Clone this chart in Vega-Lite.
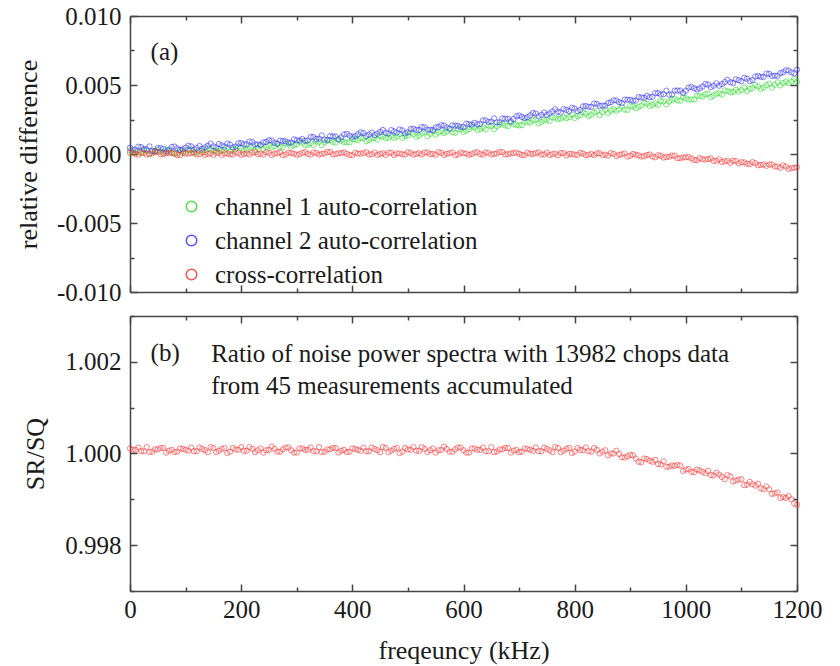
{
"$schema": "https://vega.github.io/schema/vega-lite/v6.json",
"background": "white",
"padding": {"left": 15, "top": 4, "right": 10, "bottom": 10},
"spacing": 24,
"bounds": "flush",
"config": {
  "font": "Liberation Serif",
  "view": {"stroke": null},
  "axis": {"grid": false, "domainColor": "#444", "domainWidth": 1.5, "tickColor": "#444", "tickWidth": 1.5,
    "labelFont": "Liberation Serif", "labelFontSize": 25, "labelColor": "#1a1a1a",
    "titleFont": "Liberation Serif", "titleFontSize": 26, "titleFontWeight": "normal", "titleColor": "#1a1a1a",
    "labelFlush": false, "labelOverlap": false, "labelBound": false}
},
"datasets": {"d": [
{"f":0,"ch1":0.00025,"ch2":0.00045,"cross":0.00009,"ratio":1.00011},
{"f":10,"ch1":0.0001,"ch2":0.0003,"cross":0,"ratio":1.00008},
{"f":20,"ch1":0.00004,"ch2":0.0005,"cross":0.00011,"ratio":1.00005},
{"f":30,"ch1":0.00023,"ch2":0.00035,"cross":-0.00004,"ratio":1.00014},
{"f":40,"ch1":0.00015,"ch2":0.00023,"cross":0.00004,"ratio":1.00004},
{"f":50,"ch1":0.0003,"ch2":0.00044,"cross":0.00014,"ratio":1.00009},
{"f":60,"ch1":0.00009,"ch2":0.00038,"cross":-0.00001,"ratio":1.00012},
{"f":70,"ch1":0.00021,"ch2":0.00031,"cross":0.00007,"ratio":1.00006},
{"f":80,"ch1":0.00004,"ch2":0.00054,"cross":0.00002,"ratio":1.00003},
{"f":90,"ch1":0.00027,"ch2":0.0003,"cross":-0.00008,"ratio":1.00011},
{"f":100,"ch1":0.00014,"ch2":0.00045,"cross":0.00003,"ratio":1.00008},
{"f":110,"ch1":0.00031,"ch2":0.00055,"cross":0.00007,"ratio":1.00013},
{"f":120,"ch1":0.00012,"ch2":0.00043,"cross":-0.00003,"ratio":1.00005},
{"f":130,"ch1":0.00026,"ch2":0.00038,"cross":0.00011,"ratio":1.0001},
{"f":140,"ch1":0.00041,"ch2":0.0006,"cross":0.00001,"ratio":1.00003},
{"f":150,"ch1":0.00022,"ch2":0.00055,"cross":-0.00007,"ratio":1.00012},
{"f":160,"ch1":0.00036,"ch2":0.00072,"cross":0.00009,"ratio":1.00006},
{"f":170,"ch1":0.0003,"ch2":0.00054,"cross":0.00004,"ratio":1.00012},
{"f":180,"ch1":0.00019,"ch2":0.00068,"cross":-0.00002,"ratio":1.00004},
{"f":190,"ch1":0.00036,"ch2":0.00054,"cross":0.00013,"ratio":1.00009},
{"f":200,"ch1":0.00043,"ch2":0.00079,"cross":-0.00005,"ratio":1.00014},
{"f":210,"ch1":0.00032,"ch2":0.00069,"cross":0.00005,"ratio":1.00006},
{"f":220,"ch1":0.00056,"ch2":0.00087,"cross":0.0001,"ratio":1.0001},
{"f":230,"ch1":0.00044,"ch2":0.00069,"cross":-0.00001,"ratio":1.00007},
{"f":240,"ch1":0.00036,"ch2":0.00084,"cross":-0.00005,"ratio":1.00002},
{"f":250,"ch1":0.00061,"ch2":0.001,"cross":0.00008,"ratio":1.00008},
{"f":260,"ch1":0.00057,"ch2":0.00082,"cross":0.00002,"ratio":1.0001},
{"f":270,"ch1":0.00052,"ch2":0.00097,"cross":0.00012,"ratio":1.00004},
{"f":280,"ch1":0.00076,"ch2":0.00092,"cross":-0.00003,"ratio":1.00013},
{"f":290,"ch1":0.00054,"ch2":0.00082,"cross":0.00006,"ratio":1.00007},
{"f":300,"ch1":0.00071,"ch2":0.001,"cross":-0.00006,"ratio":1.00002},
{"f":310,"ch1":0.00081,"ch2":0.00109,"cross":0.00009,"ratio":1.00011},
{"f":320,"ch1":0.00069,"ch2":0.00098,"cross":0,"ratio":1.00008},
{"f":330,"ch1":0.00066,"ch2":0.00123,"cross":0.00011,"ratio":1.00005},
{"f":340,"ch1":0.00088,"ch2":0.00111,"cross":-0.00004,"ratio":1.00014},
{"f":350,"ch1":0.00083,"ch2":0.00104,"cross":0.00004,"ratio":1.00004},
{"f":360,"ch1":0.001,"ch2":0.00129,"cross":0.00014,"ratio":1.00009},
{"f":370,"ch1":0.00082,"ch2":0.00126,"cross":-0.00001,"ratio":1.00012},
{"f":380,"ch1":0.00098,"ch2":0.00121,"cross":0.00007,"ratio":1.00006},
{"f":390,"ch1":0.00084,"ch2":0.00146,"cross":0.00002,"ratio":1.00003},
{"f":400,"ch1":0.00109,"ch2":0.00124,"cross":-0.00008,"ratio":1.00011},
{"f":410,"ch1":0.001,"ch2":0.00142,"cross":0.00003,"ratio":1.00008},
{"f":420,"ch1":0.00118,"ch2":0.00152,"cross":0.00007,"ratio":1.00013},
{"f":430,"ch1":0.00101,"ch2":0.00141,"cross":-0.00003,"ratio":1.00005},
{"f":440,"ch1":0.00116,"ch2":0.00137,"cross":0.00011,"ratio":1.0001},
{"f":450,"ch1":0.00133,"ch2":0.0016,"cross":0.00001,"ratio":1.00003},
{"f":460,"ch1":0.00115,"ch2":0.00155,"cross":-0.00007,"ratio":1.00012},
{"f":470,"ch1":0.00131,"ch2":0.00173,"cross":0.00009,"ratio":1.00006},
{"f":480,"ch1":0.00126,"ch2":0.00155,"cross":0.00004,"ratio":1.00012},
{"f":490,"ch1":0.00117,"ch2":0.00171,"cross":-0.00002,"ratio":1.00004},
{"f":500,"ch1":0.00135,"ch2":0.00157,"cross":0.00013,"ratio":1.00009},
{"f":510,"ch1":0.00144,"ch2":0.00183,"cross":-0.00005,"ratio":1.00014},
{"f":520,"ch1":0.00133,"ch2":0.00174,"cross":0.00005,"ratio":1.00006},
{"f":530,"ch1":0.00158,"ch2":0.00193,"cross":0.0001,"ratio":1.0001},
{"f":540,"ch1":0.00147,"ch2":0.00176,"cross":-0.00001,"ratio":1.00007},
{"f":550,"ch1":0.0014,"ch2":0.00192,"cross":-0.00005,"ratio":1.00002},
{"f":560,"ch1":0.00165,"ch2":0.00209,"cross":0.00008,"ratio":1.00008},
{"f":570,"ch1":0.00162,"ch2":0.00192,"cross":0.00002,"ratio":1.0001},
{"f":580,"ch1":0.00158,"ch2":0.00208,"cross":0.00012,"ratio":1.00004},
{"f":590,"ch1":0.00182,"ch2":0.00204,"cross":-0.00003,"ratio":1.00013},
{"f":600,"ch1":0.00161,"ch2":0.00195,"cross":0.00006,"ratio":1.00007},
{"f":610,"ch1":0.0018,"ch2":0.00216,"cross":-0.00006,"ratio":1.00002},
{"f":620,"ch1":0.00192,"ch2":0.00226,"cross":0.00009,"ratio":1.00011},
{"f":630,"ch1":0.00181,"ch2":0.00218,"cross":0,"ratio":1.00008},
{"f":640,"ch1":0.00179,"ch2":0.00244,"cross":0.00011,"ratio":1.00005},
{"f":650,"ch1":0.00203,"ch2":0.00235,"cross":-0.00004,"ratio":1.00014},
{"f":660,"ch1":0.002,"ch2":0.00229,"cross":0.00004,"ratio":1.00004},
{"f":670,"ch1":0.00219,"ch2":0.00257,"cross":0.00014,"ratio":1.00009},
{"f":680,"ch1":0.00202,"ch2":0.00255,"cross":-0.00001,"ratio":1.00012},
{"f":690,"ch1":0.00219,"ch2":0.00253,"cross":0.00007,"ratio":1.00006},
{"f":700,"ch1":0.00207,"ch2":0.00279,"cross":0.00002,"ratio":1.00003},
{"f":710,"ch1":0.00235,"ch2":0.0026,"cross":-0.00008,"ratio":1.00011},
{"f":720,"ch1":0.00227,"ch2":0.0028,"cross":0.00002,"ratio":1.00008},
{"f":730,"ch1":0.00248,"ch2":0.00293,"cross":0.00006,"ratio":1.00013},
{"f":740,"ch1":0.00232,"ch2":0.00284,"cross":-0.00004,"ratio":1.00005},
{"f":750,"ch1":0.0025,"ch2":0.00283,"cross":0.0001,"ratio":1.0001},
{"f":760,"ch1":0.00268,"ch2":0.00308,"cross":-0.00001,"ratio":1.00003},
{"f":770,"ch1":0.00253,"ch2":0.00306,"cross":-0.00009,"ratio":1.00012},
{"f":780,"ch1":0.0027,"ch2":0.00326,"cross":0.00007,"ratio":1.00006},
{"f":790,"ch1":0.00268,"ch2":0.00311,"cross":0.00001,"ratio":1.00012},
{"f":800,"ch1":0.0026,"ch2":0.00329,"cross":-0.00005,"ratio":1.00004},
{"f":810,"ch1":0.00281,"ch2":0.00319,"cross":0.00009,"ratio":1.00008},
{"f":820,"ch1":0.00292,"ch2":0.00348,"cross":-0.00009,"ratio":1.00013},
{"f":830,"ch1":0.00284,"ch2":0.00342,"cross":0,"ratio":1.00004},
{"f":840,"ch1":0.00311,"ch2":0.00364,"cross":0.00005,"ratio":1.00008},
{"f":850,"ch1":0.00302,"ch2":0.0035,"cross":-0.00007,"ratio":1.00004},
{"f":860,"ch1":0.00297,"ch2":0.00369,"cross":-0.00012,"ratio":0.99996},
{"f":870,"ch1":0.00325,"ch2":0.00389,"cross":0.00001,"ratio":1},
{"f":880,"ch1":0.00324,"ch2":0.00375,"cross":-0.00006,"ratio":0.99999},
{"f":890,"ch1":0.00322,"ch2":0.00394,"cross":0.00004,"ratio":0.99991},
{"f":900,"ch1":0.00349,"ch2":0.00393,"cross":-0.00012,"ratio":0.99997},
{"f":910,"ch1":0.00331,"ch2":0.00387,"cross":-0.00005,"ratio":0.99989},
{"f":920,"ch1":0.00351,"ch2":0.00409,"cross":-0.00019,"ratio":0.99981},
{"f":930,"ch1":0.00365,"ch2":0.00421,"cross":-0.00007,"ratio":0.99988},
{"f":940,"ch1":0.00356,"ch2":0.00414,"cross":-0.00018,"ratio":0.99982},
{"f":950,"ch1":0.00356,"ch2":0.00442,"cross":-0.00009,"ratio":0.99977},
{"f":960,"ch1":0.00381,"ch2":0.00434,"cross":-0.00026,"ratio":0.99983},
{"f":970,"ch1":0.0038,"ch2":0.0043,"cross":-0.0002,"ratio":0.99971},
{"f":980,"ch1":0.004,"ch2":0.00459,"cross":-0.00013,"ratio":0.99973},
{"f":990,"ch1":0.00386,"ch2":0.00459,"cross":-0.0003,"ratio":0.99974},
{"f":1000,"ch1":0.00404,"ch2":0.00458,"cross":-0.00024,"ratio":0.99965},
{"f":1010,"ch1":0.00394,"ch2":0.00486,"cross":-0.00032,"ratio":0.9996},
{"f":1020,"ch1":0.00422,"ch2":0.00468,"cross":-0.00045,"ratio":0.99965},
{"f":1030,"ch1":0.00416,"ch2":0.00489,"cross":-0.00038,"ratio":0.9996},
{"f":1040,"ch1":0.00437,"ch2":0.00503,"cross":-0.00037,"ratio":0.99962},
{"f":1050,"ch1":0.00423,"ch2":0.00495,"cross":-0.0005,"ratio":0.99952},
{"f":1060,"ch1":0.00441,"ch2":0.00495,"cross":-0.00039,"ratio":0.99954},
{"f":1070,"ch1":0.00461,"ch2":0.00521,"cross":-0.00052,"ratio":0.99944},
{"f":1080,"ch1":0.00446,"ch2":0.0052,"cross":-0.00064,"ratio":0.9995},
{"f":1090,"ch1":0.00465,"ch2":0.00541,"cross":-0.00051,"ratio":0.99941},
{"f":1100,"ch1":0.00463,"ch2":0.00527,"cross":-0.00059,"ratio":0.99944},
{"f":1110,"ch1":0.00457,"ch2":0.00546,"cross":-0.0007,"ratio":0.99932},
{"f":1120,"ch1":0.00478,"ch2":0.00536,"cross":-0.00059,"ratio":0.99933},
{"f":1130,"ch1":0.0049,"ch2":0.00565,"cross":-0.00082,"ratio":0.99934},
{"f":1140,"ch1":0.00482,"ch2":0.00559,"cross":-0.00076,"ratio":0.99922},
{"f":1150,"ch1":0.0051,"ch2":0.00581,"cross":-0.00076,"ratio":0.99922},
{"f":1160,"ch1":0.00501,"ch2":0.00567,"cross":-0.00091,"ratio":0.99913},
{"f":1170,"ch1":0.00497,"ch2":0.00586,"cross":-0.001,"ratio":0.99903},
{"f":1180,"ch1":0.00525,"ch2":0.00606,"cross":-0.00091,"ratio":0.99903},
{"f":1190,"ch1":0.00525,"ch2":0.00592,"cross":-0.00102,"ratio":0.999},
{"f":1200,"ch1":0.00523,"ch2":0.00611,"cross":-0.00096,"ratio":0.99888},
{"f":5,"ch1":0.00005,"ch2":0.00031,"cross":0.00013,"ratio":1.00008},
{"f":15,"ch1":0.00019,"ch2":0.00053,"cross":-0.00005,"ratio":1.00013},
{"f":25,"ch1":0.00029,"ch2":0.00035,"cross":0.00008,"ratio":1.00005},
{"f":35,"ch1":-0.00002,"ch2":0.00055,"cross":0.00001,"ratio":1.00003},
{"f":45,"ch1":0.00025,"ch2":0.0002,"cross":0.00015,"ratio":1.00009},
{"f":55,"ch1":0.00016,"ch2":0.00042,"cross":-0.00003,"ratio":1.00012},
{"f":65,"ch1":0.00033,"ch2":0.00018,"cross":0.00005,"ratio":1.00002},
{"f":75,"ch1":0.00009,"ch2":0.00051,"cross":0.00011,"ratio":1.00008},
{"f":85,"ch1":0.00004,"ch2":0.0004,"cross":-0.00008,"ratio":1.00004},
{"f":95,"ch1":0.00022,"ch2":0.00034,"cross":0.00009,"ratio":1.0001},
{"f":105,"ch1":0.00029,"ch2":0.0006,"cross":0.00002,"ratio":1.00006},
{"f":115,"ch1":0.00004,"ch2":0.00033,"cross":0.00013,"ratio":1.00005},
{"f":125,"ch1":0.00024,"ch2":0.00057,"cross":-0.00002,"ratio":1.00013},
{"f":135,"ch1":0.00013,"ch2":0.00048,"cross":-0.00006,"ratio":1.00007},
{"f":145,"ch1":0.00034,"ch2":0.00075,"cross":0.00005,"ratio":1.00014},
{"f":155,"ch1":0.00024,"ch2":0.00047,"cross":0.00009,"ratio":1.00003},
{"f":165,"ch1":0.00022,"ch2":0.00063,"cross":-0.00007,"ratio":1.0001},
{"f":175,"ch1":0.00047,"ch2":0.00076,"cross":0.00004,"ratio":1.00001},
{"f":185,"ch1":0.00032,"ch2":0.00048,"cross":-0.00004,"ratio":1.00012},
{"f":195,"ch1":0.00055,"ch2":0.00078,"cross":0.00007,"ratio":1.00008},
{"f":205,"ch1":0.00024,"ch2":0.00071,"cross":0,"ratio":1.00006},
{"f":215,"ch1":0.00048,"ch2":0.00091,"cross":-0.00003,"ratio":1.00014},
{"f":225,"ch1":0.00026,"ch2":0.0007,"cross":0.00012,"ratio":1.00003},
{"f":235,"ch1":0.00061,"ch2":0.00067,"cross":0.00001,"ratio":1.00011},
{"f":245,"ch1":0.00052,"ch2":0.00088,"cross":0.00014,"ratio":1.00007},
{"f":255,"ch1":0.00048,"ch2":0.00097,"cross":-0.00007,"ratio":1.00015},
{"f":265,"ch1":0.00075,"ch2":0.00073,"cross":0.00006,"ratio":1.00004},
{"f":275,"ch1":0.00048,"ch2":0.00094,"cross":-0.00009,"ratio":1.00009},
{"f":285,"ch1":0.00072,"ch2":0.00084,"cross":0.0001,"ratio":1.00013},
{"f":295,"ch1":0.00063,"ch2":0.00106,"cross":0.00003,"ratio":1.00002},
{"f":305,"ch1":0.0009,"ch2":0.00097,"cross":-0.00001,"ratio":1.00011},
{"f":315,"ch1":0.00063,"ch2":0.00096,"cross":0.00013,"ratio":1.00008},
{"f":325,"ch1":0.00079,"ch2":0.00123,"cross":-0.00005,"ratio":1.00013},
{"f":335,"ch1":0.00092,"ch2":0.00109,"cross":0.00008,"ratio":1.00005},
{"f":345,"ch1":0.00064,"ch2":0.00134,"cross":0.00001,"ratio":1.00003},
{"f":355,"ch1":0.00095,"ch2":0.00103,"cross":0.00015,"ratio":1.00009},
{"f":365,"ch1":0.00088,"ch2":0.00128,"cross":-0.00003,"ratio":1.00012},
{"f":375,"ch1":0.00108,"ch2":0.00106,"cross":0.00005,"ratio":1.00002},
{"f":385,"ch1":0.00087,"ch2":0.00142,"cross":0.00011,"ratio":1.00008},
{"f":395,"ch1":0.00084,"ch2":0.00133,"cross":-0.00008,"ratio":1.00004},
{"f":405,"ch1":0.00106,"ch2":0.0013,"cross":0.00009,"ratio":1.0001},
{"f":415,"ch1":0.00115,"ch2":0.00157,"cross":0.00002,"ratio":1.00006},
{"f":425,"ch1":0.00092,"ch2":0.00131,"cross":0.00013,"ratio":1.00005},
{"f":435,"ch1":0.00113,"ch2":0.00155,"cross":-0.00002,"ratio":1.00013},
{"f":445,"ch1":0.00104,"ch2":0.00147,"cross":-0.00006,"ratio":1.00007},
{"f":455,"ch1":0.00126,"ch2":0.00174,"cross":0.00005,"ratio":1.00014},
{"f":465,"ch1":0.00118,"ch2":0.00148,"cross":0.00009,"ratio":1.00003},
{"f":475,"ch1":0.00117,"ch2":0.00164,"cross":-0.00007,"ratio":1.0001},
{"f":485,"ch1":0.00144,"ch2":0.00178,"cross":0.00004,"ratio":1.00001},
{"f":495,"ch1":0.0013,"ch2":0.0015,"cross":-0.00004,"ratio":1.00012},
{"f":505,"ch1":0.00155,"ch2":0.00181,"cross":0.00007,"ratio":1.00008},
{"f":515,"ch1":0.00125,"ch2":0.00175,"cross":0,"ratio":1.00006},
{"f":525,"ch1":0.00149,"ch2":0.00196,"cross":-0.00003,"ratio":1.00014},
{"f":535,"ch1":0.00128,"ch2":0.00176,"cross":0.00012,"ratio":1.00003},
{"f":545,"ch1":0.00164,"ch2":0.00174,"cross":0.00001,"ratio":1.00011},
{"f":555,"ch1":0.00155,"ch2":0.00196,"cross":0.00014,"ratio":1.00007},
{"f":565,"ch1":0.00152,"ch2":0.00206,"cross":-0.00007,"ratio":1.00015},
{"f":575,"ch1":0.0018,"ch2":0.00183,"cross":0.00006,"ratio":1.00004},
{"f":585,"ch1":0.00153,"ch2":0.00205,"cross":-0.00009,"ratio":1.00009},
{"f":595,"ch1":0.00178,"ch2":0.00196,"cross":0.0001,"ratio":1.00013},
{"f":605,"ch1":0.0017,"ch2":0.0022,"cross":0.00003,"ratio":1.00002},
{"f":615,"ch1":0.00199,"ch2":0.00213,"cross":-0.00001,"ratio":1.00011},
{"f":625,"ch1":0.00174,"ch2":0.00215,"cross":0.00013,"ratio":1.00008},
{"f":635,"ch1":0.00192,"ch2":0.00243,"cross":-0.00005,"ratio":1.00013},
{"f":645,"ch1":0.00207,"ch2":0.00232,"cross":0.00008,"ratio":1.00005},
{"f":655,"ch1":0.0018,"ch2":0.00258,"cross":0.00001,"ratio":1.00003},
{"f":665,"ch1":0.00212,"ch2":0.0023,"cross":0.00015,"ratio":1.00009},
{"f":675,"ch1":0.00207,"ch2":0.00256,"cross":-0.00003,"ratio":1.00012},
{"f":685,"ch1":0.00229,"ch2":0.00237,"cross":0.00005,"ratio":1.00002},
{"f":695,"ch1":0.0021,"ch2":0.00274,"cross":0.00011,"ratio":1.00008},
{"f":705,"ch1":0.00209,"ch2":0.00268,"cross":-0.00008,"ratio":1.00004},
{"f":715,"ch1":0.00232,"ch2":0.00267,"cross":0.00009,"ratio":1.0001},
{"f":725,"ch1":0.00244,"ch2":0.00297,"cross":0.00001,"ratio":1.00006},
{"f":735,"ch1":0.00222,"ch2":0.00273,"cross":0.00012,"ratio":1.00005},
{"f":745,"ch1":0.00246,"ch2":0.003,"cross":-0.00003,"ratio":1.00013},
{"f":755,"ch1":0.00238,"ch2":0.00294,"cross":-0.00008,"ratio":1.00007},
{"f":765,"ch1":0.00263,"ch2":0.00324,"cross":0.00003,"ratio":1.00014},
{"f":775,"ch1":0.00256,"ch2":0.003,"cross":0.00007,"ratio":1.00003},
{"f":785,"ch1":0.00258,"ch2":0.00319,"cross":-0.0001,"ratio":1.0001},
{"f":795,"ch1":0.00286,"ch2":0.00335,"cross":0.00001,"ratio":1.00001},
{"f":805,"ch1":0.00275,"ch2":0.00311,"cross":-0.00007,"ratio":1.00012},
{"f":815,"ch1":0.00302,"ch2":0.00345,"cross":0.00003,"ratio":1.00007},
{"f":825,"ch1":0.00274,"ch2":0.00342,"cross":-0.00005,"ratio":1.00005},
{"f":835,"ch1":0.00301,"ch2":0.00366,"cross":-0.00008,"ratio":1.00012},
{"f":845,"ch1":0.00282,"ch2":0.00349,"cross":0.00006,"ratio":1},
{"f":855,"ch1":0.0032,"ch2":0.0035,"cross":-0.00005,"ratio":1.00007},
{"f":865,"ch1":0.00314,"ch2":0.00375,"cross":0.00007,"ratio":1},
{"f":875,"ch1":0.00313,"ch2":0.00388,"cross":-0.00015,"ratio":1.00006},
{"f":885,"ch1":0.00343,"ch2":0.00368,"cross":-0.00002,"ratio":0.99992},
{"f":895,"ch1":0.00319,"ch2":0.00393,"cross":-0.00018,"ratio":0.99994},
{"f":905,"ch1":0.00346,"ch2":0.00387,"cross":0,"ratio":0.99996},
{"f":915,"ch1":0.00341,"ch2":0.00413,"cross":-0.00009,"ratio":0.99982},
{"f":925,"ch1":0.00371,"ch2":0.00408,"cross":-0.00016,"ratio":0.99989},
{"f":935,"ch1":0.00348,"ch2":0.00411,"cross":-0.00004,"ratio":0.99984},
{"f":945,"ch1":0.00367,"ch2":0.00441,"cross":-0.00024,"ratio":0.99986},
{"f":955,"ch1":0.00384,"ch2":0.00431,"cross":-0.00013,"ratio":0.99976},
{"f":965,"ch1":0.00359,"ch2":0.00459,"cross":-0.00022,"ratio":0.99971},
{"f":975,"ch1":0.00393,"ch2":0.00432,"cross":-0.00011,"ratio":0.99974},
{"f":985,"ch1":0.00389,"ch2":0.0046,"cross":-0.00031,"ratio":0.99975},
{"f":995,"ch1":0.00413,"ch2":0.00442,"cross":-0.00025,"ratio":0.99962},
{"f":1005,"ch1":0.00395,"ch2":0.00481,"cross":-0.00022,"ratio":0.99966},
{"f":1015,"ch1":0.00396,"ch2":0.00476,"cross":-0.00044,"ratio":0.99959},
{"f":1025,"ch1":0.0042,"ch2":0.00476,"cross":-0.0003,"ratio":0.99963},
{"f":1035,"ch1":0.00433,"ch2":0.00507,"cross":-0.0004,"ratio":0.99957},
{"f":1045,"ch1":0.00412,"ch2":0.00484,"cross":-0.00032,"ratio":0.99953},
{"f":1055,"ch1":0.00437,"ch2":0.00512,"cross":-0.00051,"ratio":0.99958},
{"f":1065,"ch1":0.0043,"ch2":0.00507,"cross":-0.00058,"ratio":0.99949},
{"f":1075,"ch1":0.00456,"ch2":0.00538,"cross":-0.0005,"ratio":0.99953},
{"f":1085,"ch1":0.0045,"ch2":0.00515,"cross":-0.00049,"ratio":0.99939},
{"f":1095,"ch1":0.00453,"ch2":0.00535,"cross":-0.00068,"ratio":0.99943},
{"f":1105,"ch1":0.00482,"ch2":0.00552,"cross":-0.00061,"ratio":0.99931},
{"f":1115,"ch1":0.00472,"ch2":0.00528,"cross":-0.00074,"ratio":0.99938},
{"f":1125,"ch1":0.00499,"ch2":0.00562,"cross":-0.00067,"ratio":0.9993},
{"f":1135,"ch1":0.00472,"ch2":0.00559,"cross":-0.00079,"ratio":0.99924},
{"f":1145,"ch1":0.00499,"ch2":0.00583,"cross":-0.00086,"ratio":0.99928},
{"f":1155,"ch1":0.00481,"ch2":0.00566,"cross":-0.00076,"ratio":0.99912},
{"f":1165,"ch1":0.00519,"ch2":0.00567,"cross":-0.00091,"ratio":0.99915},
{"f":1175,"ch1":0.00514,"ch2":0.00592,"cross":-0.00083,"ratio":0.99905},
{"f":1185,"ch1":0.00513,"ch2":0.00605,"cross":-0.00108,"ratio":0.99907},
{"f":1195,"ch1":0.00544,"ch2":0.00585,"cross":-0.001,"ratio":0.99891}
]},
"vconcat": [
{
  "width": 667, "height": 276,
  "layer": [
    {
      "data": {"name": "d"},
      "transform": [{"fold": ["ch1", "ch2", "cross"], "as": ["s", "v"]}],
      "mark": {"type": "point", "filled": false, "size": 28, "strokeWidth": 1, "opacity": 0.6},
      "encoding": {
        "x": {"field": "f", "type": "quantitative", "scale": {"domain": [0, 1200], "nice": false, "zero": false},
          "axis": {"orient": "bottom", "values": [0,100,200,300,400,500,600,700,800,900,1000,1100,1200], "labels": false, "title": null,
            "tickSize": {"condition": {"test": "datum.value % 200 == 0", "value": -7}, "value": -4}}},
        "y": {"field": "v", "type": "quantitative", "scale": {"domain": [-0.01, 0.01], "nice": false, "zero": false},
          "axis": {"orient": "left", "values": [-0.01,-0.0075,-0.005,-0.0025,0,0.0025,0.005,0.0075,0.01],
            "labelExpr": "round(datum.value*400) % 2 == 0 ? replace(format(datum.value, '.3f'), '\u2212', '-') : ''",
            "tickSize": {"condition": {"test": "round(datum.value*400) % 2 == 0", "value": -7}, "value": -4},
            "labelPadding": 16, "title": "relative difference", "minExtent": 75, "maxExtent": 75, "titlePadding": 14}},
        "color": {"field": "s", "type": "nominal",
          "scale": {"domain": ["ch1", "ch2", "cross"], "range": ["#22dd22", "#2a2aff", "#ff2a2a"]},
          "legend": {"orient": "none", "legendX": 49, "legendY": 178, "title": null, "padding": 0,
            "labelExpr": "datum.label == 'ch1' ? 'channel 1 auto-correlation' : datum.label == 'ch2' ? 'channel 2 auto-correlation' : 'cross-correlation'",
            "symbolType": "circle", "symbolSize": 110, "symbolStrokeWidth": 1.5, "symbolFillColor": "transparent", "symbolOpacity": 0.8,
            "labelFont": "Liberation Serif", "labelFontSize": 25, "labelColor": "#1a1a1a", "labelOffset": 11, "rowPadding": 8, "labelLimit": 400}},
        "order": {"field": "s", "sort": "ascending"}
      }
    },
    {
      "data": {"name": "d"},
      "transform": [{"fold": ["ch1", "ch2", "cross"], "as": ["s", "v"]}],
      "mark": {"type": "point", "opacity": 0},
      "encoding": {
        "x": {"field": "f", "type": "quantitative", "scale": {"domain": [0, 1200], "nice": false, "zero": false},
          "axis": {"orient": "top", "values": [0,100,200,300,400,500,600,700,800,900,1000,1100,1200], "labels": false, "title": null,
            "tickSize": {"condition": {"test": "datum.value % 200 == 0", "value": -7}, "value": -4}}},
        "y": {"field": "v", "type": "quantitative", "scale": {"domain": [-0.01, 0.01], "nice": false, "zero": false},
          "axis": {"orient": "right", "values": [-0.01,-0.0075,-0.005,-0.0025,0,0.0025,0.005,0.0075,0.01], "labels": false, "title": null,
            "tickSize": {"condition": {"test": "round(datum.value*400) % 2 == 0", "value": -7}, "value": -4}}}
      }
    },
    {
      "data": {"values": [{"f": 37, "v": 0.0074, "t": "(a)"}]},
      "mark": {"type": "text", "align": "left", "baseline": "middle", "font": "Liberation Serif", "fontSize": 25, "color": "#1a1a1a"},
      "encoding": {
        "x": {"field": "f", "type": "quantitative", "scale": {"domain": [0, 1200], "nice": false, "zero": false}, "axis": null},
        "y": {"field": "v", "type": "quantitative", "scale": {"domain": [-0.01, 0.01], "nice": false, "zero": false}, "axis": null},
        "text": {"field": "t"}
      }
    }
  ],
  "resolve": {"axis": {"x": "independent", "y": "independent"}}
},
{
  "width": 667, "height": 275,
  "layer": [
    {
      "data": {"name": "d"},
      "mark": {"type": "point", "filled": false, "size": 28, "strokeWidth": 1, "opacity": 0.6, "color": "#ff2a2a"},
      "encoding": {
        "x": {"field": "f", "type": "quantitative", "scale": {"domain": [0, 1200], "nice": false, "zero": false},
          "axis": {"orient": "bottom", "values": [0,100,200,300,400,500,600,700,800,900,1000,1100,1200], "format": "d",
            "labelExpr": "datum.value % 200 == 0 ? datum.label : ''",
            "tickSize": {"condition": {"test": "datum.value % 200 == 0", "value": -7}, "value": -4},
            "labelPadding": 13, "title": "freqeuncy (kHz)", "titlePadding": 12}},
        "y": {"field": "ratio", "type": "quantitative", "scale": {"domain": [0.997, 1.003], "nice": false, "zero": false},
          "axis": {"orient": "left", "values": [0.997,0.998,0.999,1,1.001,1.002,1.003],
            "labelExpr": "round(datum.value*1000) % 2 == 0 ? format(datum.value, '.3f') : ''",
            "tickSize": {"condition": {"test": "round(datum.value*1000) % 2 == 0", "value": -7}, "value": -4},
            "labelPadding": 16, "title": "SR/SQ", "minExtent": 75, "maxExtent": 75, "titlePadding": 7}}
      }
    },
    {
      "data": {"name": "d"},
      "mark": {"type": "point", "opacity": 0},
      "encoding": {
        "x": {"field": "f", "type": "quantitative", "scale": {"domain": [0, 1200], "nice": false, "zero": false},
          "axis": {"orient": "top", "values": [0,100,200,300,400,500,600,700,800,900,1000,1100,1200], "labels": false, "title": null,
            "tickSize": {"condition": {"test": "datum.value % 200 == 0", "value": -7}, "value": -4}}},
        "y": {"field": "ratio", "type": "quantitative", "scale": {"domain": [0.997, 1.003], "nice": false, "zero": false},
          "axis": {"orient": "right", "values": [0.997,0.998,0.999,1,1.001,1.002,1.003], "labels": false, "title": null,
            "tickSize": {"condition": {"test": "round(datum.value*1000) % 2 == 0", "value": -7}, "value": -4}}}
      }
    },
    {
      "data": {"values": [
        {"f": 37, "v": 1.0022, "t": "(b)"},
        {"f": 146, "v": 1.00217, "t": "Ratio of noise power spectra with 13982 chops data"},
        {"f": 146, "v": 1.00148, "t": "from 45 measurements accumulated"}
      ]},
      "mark": {"type": "text", "align": "left", "baseline": "middle", "font": "Liberation Serif", "fontSize": 25, "color": "#1a1a1a"},
      "encoding": {
        "x": {"field": "f", "type": "quantitative", "scale": {"domain": [0, 1200], "nice": false, "zero": false}, "axis": null},
        "y": {"field": "v", "type": "quantitative", "scale": {"domain": [0.997, 1.003], "nice": false, "zero": false}, "axis": null},
        "text": {"field": "t"}
      }
    }
  ],
  "resolve": {"axis": {"x": "independent", "y": "independent"}}
}
]
}
